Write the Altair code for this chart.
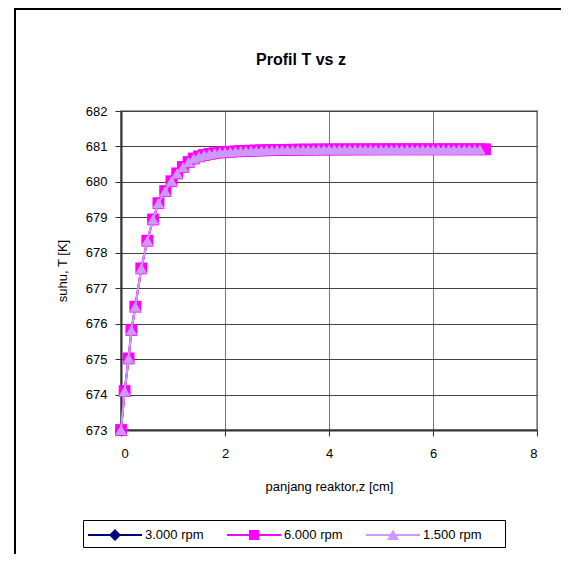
import altair as alt
import pandas as pd

chart_title = "Profil T vs z"
x_title = "panjang reaktor,z [cm]"
y_title = "suhu, T [K]"
series_names = ["3.000 rpm", "6.000 rpm", "1.500 rpm"]
series_colors = ["#000080", "#FF00FF", "#CC99FF"]
series_shapes = ["diamond", "square", "triangle-up"]
x_ticks = [0, 2, 4, 6, 8]
y_ticks = [673, 674, 675, 676, 677, 678, 679, 680, 681, 682]

z_cm = [0, 0.07, 0.146, 0.2, 0.275, 0.39, 0.506, 0.615, 0.72, 0.85, 0.97, 1.08, 1.19, 1.3, 1.4,
        1.5, 1.6, 1.7, 1.8, 1.9, 2.0, 2.1, 2.2, 2.3, 2.4,
        2.5, 2.6, 2.7, 2.8, 2.9, 3.0, 3.1, 3.2, 3.3, 3.4,
        3.5, 3.6, 3.7, 3.8, 3.9, 4.0, 4.1, 4.2, 4.3, 4.4,
        4.5, 4.6, 4.7, 4.8, 4.9, 5.0, 5.1, 5.2, 5.3, 5.4,
        5.5, 5.6, 5.7, 5.8, 5.9, 6.0, 6.1, 6.2, 6.3, 6.4,
        6.5, 6.6, 6.7, 6.8, 6.9, 7.0]

T_profile = [673.0, 674.1, 675.02, 675.82, 676.48, 677.56, 678.34, 678.94, 679.4, 679.74, 680.02, 680.24, 680.42, 680.56, 680.66,
             680.72, 680.76, 680.79, 680.81, 680.83, 680.84, 680.85, 680.86, 680.87, 680.875,
             680.88, 680.885, 680.89, 680.893, 680.896, 680.9, 680.902, 680.904, 680.906, 680.908,
             680.91, 680.911, 680.912, 680.913, 680.914, 680.915, 680.916, 680.916, 680.917, 680.917,
             680.918, 680.918, 680.918, 680.919, 680.919, 680.919, 680.92, 680.92, 680.92, 680.92,
             680.92, 680.92, 680.92, 680.92, 680.92, 680.92, 680.92, 680.92, 680.92, 680.92,
             680.92, 680.92, 680.92, 680.92, 680.92, 680.92]

T_3000 = T_profile
T_6000 = T_profile
T_1500 = T_profile[:70]

rows = []
for name, temps in zip(series_names, [T_3000, T_6000, T_1500]):
    for i, t in enumerate(temps):
        rows.append({"z": z_cm[i], "T": t, "series": name})
df = pd.DataFrame(rows)

FONT = "Liberation Sans"

x_enc = alt.X("z:Q", scale=alt.Scale(domain=[0, 8], nice=False, zero=False),
              axis=alt.Axis(values=x_ticks, title=x_title, titleX=208, titleY=56,
                            titleBaseline="middle", titleAlign="center",
                            gridColor="#777777", format="d", labelPadding=11))
y_enc = alt.Y("T:Q", scale=alt.Scale(domain=[673, 682], nice=False, zero=False),
              axis=alt.Axis(values=y_ticks, title=y_title, titleX=-59, titleY=159.5,
                            titleBaseline="middle", titleAlign="center", titleAngle=-90,
                            gridColor="#444444", format="d", labelPadding=8))

base = alt.Chart(df)

layers = []
for name, col, shp in zip(series_names, series_colors, series_shapes):
    sub = base.transform_filter(alt.datum.series == name)
    layers.append(sub.mark_line(strokeWidth=2, color=col).encode(
        x=x_enc, y=y_enc, order=alt.Order("z:Q")))
    layers.append(sub.mark_point(filled=True, opacity=1, size=140, shape=shp, color=col).encode(
        x=x_enc, y=y_enc))

# legend glyphs: a thin bar (the line) plus the marker, drawn with fill only
legend_paths = [
    "M-2.7,-0.1H2.7V0.1H-2.7ZM0,-0.6L0.6,0L0,0.6L-0.6,0Z",
    "M-2.7,-0.1H2.7V0.1H-2.7ZM-0.5,-0.5H0.5V0.5H-0.5Z",
    "M-2.7,-0.1H2.7V0.1H-2.7ZM0,-0.55L0.6,0.5H-0.6Z",
]

legend_def = alt.Legend(title="\u00a0", titleOrient="right", titlePadding=18)

legend_layer = base.mark_point(filled=True, opacity=0, size=400).encode(
    x=x_enc, y=y_enc,
    color=alt.Color("series:N", scale=alt.Scale(domain=series_names, range=series_colors),
                    legend=legend_def),
    shape=alt.Shape("series:N", scale=alt.Scale(domain=series_names, range=legend_paths),
                    legend=legend_def),
)

one = pd.DataFrame({"t": [chart_title]})
title_text = alt.Chart(one).mark_text(font=FONT, fontSize=16, fontWeight="bold",
                                      color="black", baseline="middle", align="center").encode(
    x=alt.value(180), y=alt.value(-51), text="t:N")

frame_left = alt.Chart(one).mark_rule(color="black", strokeWidth=2).encode(
    x=alt.value(-106), y=alt.value(-103), y2=alt.value(445))
frame_top = alt.Chart(one).mark_rule(color="black", strokeWidth=2).encode(
    x=alt.value(-107), x2=alt.value(460), y=alt.value(-102))

chart = alt.layer(frame_left, frame_top, *layers, legend_layer, title_text).properties(
    width=416, height=319,
    autosize=alt.AutoSizeParams(type="none"),
    padding={"left": 113, "top": 103, "right": 24, "bottom": 124},
    background="white",
).configure(font=FONT).configure_view(
    stroke="#808080", strokeWidth=1.5
).configure_axis(
    labelFont=FONT, labelFontSize=13, labelColor="black",
    titleFont=FONT, titleFontSize=13, titleFontWeight="normal", titleColor="black",
    domainColor="#333333", domainWidth=2,
    tickColor="#333333", tickSize=6, tickWidth=1,
    grid=True, gridWidth=1, gridOpacity=1,
).configure_legend(
    orient="none", legendX=-38, legendY=409, direction="horizontal",
    strokeColor="black", fillColor="white", padding=5,
    labelFont=FONT, labelFontSize=13, labelColor="black",
    titleFont=FONT, titleFontSize=13,
    symbolSize=400, symbolStrokeWidth=0, symbolOffset=17, labelOffset=20,
    columnPadding=23, symbolOpacity=1,
)

chart.save("out.html", embed_options={"renderer": "svg", "actions": False})
